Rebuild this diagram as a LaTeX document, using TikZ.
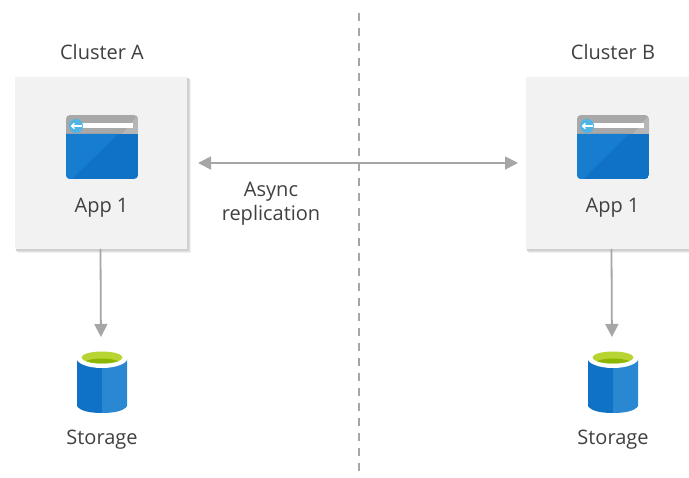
\documentclass[tikz,border=0pt]{standalone}
\usepackage{fontspec}
\setmainfont{Open Sans}
\usetikzlibrary{arrows.meta}
\definecolor{boxfill}{HTML}{F2F2F2}
\definecolor{shadeA}{HTML}{F0F0F0}
\definecolor{shadeB}{HTML}{E0E0E0}
\definecolor{shadeC}{HTML}{D0D0D0}
\definecolor{linegray}{HTML}{A6A6A6}
\definecolor{txt}{HTML}{404040}
\definecolor{blueA}{HTML}{0F72C4}
\definecolor{blueB}{HTML}{177DCF}
\definecolor{blueC}{HTML}{2A87D2}
\definecolor{barG}{HTML}{A8A8A8}
\definecolor{barH}{HTML}{B6B6B6}
\definecolor{cyanC}{HTML}{50B4E6}
\definecolor{greenA}{HTML}{B8D432}
\definecolor{greenB}{HTML}{8DB600}
\tikzset{
  lbl/.style={font=\fontsize{20}{20}\selectfont, text=txt, inner sep=0pt},
  conn/.style={draw=linegray, line width=1.8pt, -{Triangle[length=13pt,width=13pt]}},
  boxnode/.style={fill=boxfill, minimum width=172pt, minimum height=172pt, inner sep=0pt, outer sep=0pt},
  ghost/.style={minimum width=50pt, minimum height=62pt, inner sep=0pt, outer sep=0pt},
  pics/cluster/.style={code={
    % panel
    \fill[shadeA] (18,80) rectangle (191,253);
    \fill[shadeB] (17,79) rectangle (190,252);
    \fill[shadeC] (16,78) rectangle (189,251);
    \node[boxnode] (box) at (101,163) {};
    \node[lbl] (title) at (102,52) {#1};
    % app icon
    \begin{scope}
      \clip[rounded corners=4pt] (66,115) rectangle (138,179);
      \fill[barG] (66,115) rectangle (138,134);
      \fill[barH] (122,134) -- (138,115) -- (138,134) -- cycle;
      \fill[blueA] (66,134) rectangle (138,179);
      \fill[blueB] (66,134) -- (118,134) -- (72,179) -- (66,179) -- cycle;
    \end{scope}
    \fill[white] (76,123.5) rectangle (133,128.5);
    \fill[cyanC] (76,126) circle (7);
    \draw[white, line width=1.3pt, -{Straight Barb[length=3pt,width=5.5pt]}] (81.5,126) -- (70.5,126);
    \node[lbl] (app) at (101.5,208) {App 1};
    % storage
    \node[ghost] (st) at (102,382) {};
    \fill[blueA] (77,358) -- (102,358) -- (102,413) .. controls (90,413) and (80,411) .. (77,406) -- cycle;
    \fill[blueC] (127,358) -- (102,358) -- (102,413) .. controls (114,413) and (124,411) .. (127,406) -- cycle;
    \fill[white] (102,358) ellipse [x radius=25.5, y radius=10];
    \fill[greenA] (102,357.5) ellipse [x radius=20.5, y radius=6];
    \begin{scope}
      \clip (102,357.5) ellipse [x radius=20.5, y radius=6];
      \fill[greenB] (102,363.5) ellipse [x radius=18, y radius=5];
    \end{scope}
    \node[lbl] (stl) at (102,440) {Storage};
    \draw[conn, shorten >=14pt] ([xshift=-0.5pt]box.south) -- ([xshift=-1pt]st.north);
  }}
}
\begin{document}
\begin{tikzpicture}[x=1pt,y=-1pt]
  \path[use as bounding box] (0,0) rectangle (689,478);
  \clip (0,0) rectangle (689,478);
  \fill[white] (0,0) rectangle (689,478);
  \coordinate (dtop) at (358.5,13);
  \coordinate (dbot) at (358.5,478);
  \draw[linegray, line width=2pt, dash pattern=on 8pt off 7pt] (dtop) -- (dbot);
  \pic (A) at (0,0) {cluster={Cluster A}};
  \pic (B) at (511,0) {cluster={Cluster B}};
  \draw[conn, {Triangle[length=13pt,width=13pt]}-{Triangle[length=13pt,width=13pt]}, shorten <=11pt, shorten >=8pt] (Abox.east) -- (Bbox.west);
  \node[lbl, align=center] (async) at (271,204) {Async\\[4pt]replication};
\end{tikzpicture}
\end{document}
